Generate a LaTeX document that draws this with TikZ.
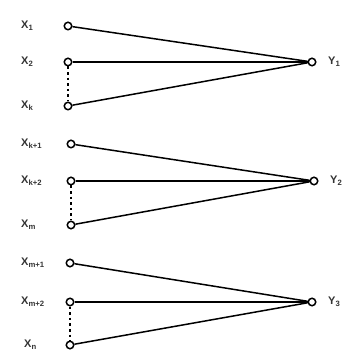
\documentclass[tikz,border=0pt]{standalone}
\usepackage{fontspec}
\setmainfont{Liberation Sans}
\usetikzlibrary{calc}

\begin{document}
\begin{tikzpicture}[x=1pt,y=-1pt]
\tikzset{
  vert/.style={circle,draw,line width=1.5pt,fill=white,inner sep=0pt,minimum size=7.5pt},
  lab/.style={anchor=west,inner sep=0pt,font=\fontsize{11}{13}\selectfont\bfseries,text=black!80},
  edge/.style={line width=1.5pt},
  dots/.style={line width=2.6pt,dash pattern=on 2.6pt off 3pt}
}
\useasboundingbox (0,0) rectangle (358,352);

% Group 1
\node[vert] (x1) at (68,26){};
\node[vert] (x2) at (68,62){};
\node[vert] (xk) at (68,106){};
\node[vert] (y1) at (312,62){};
\node[lab] (lx1) at (21,26){X\textsubscript{1}};
\node[lab] (lx2) at (21,62){X\textsubscript{2}};
\node[lab] (lxk) at (21,106){X\textsubscript{k}};
\node[lab] (ly1) at (328,62){Y\textsubscript{1}};
\draw[edge] (x1)--(y1);
\draw[edge] (x2)--(y1);
\draw[edge] (xk)--(y1);
\draw[dots] (x2)--(xk);

% Group 2
\node[vert] (xk1) at (71,144){};
\node[vert] (xk2) at (71,181){};
\node[vert] (xm) at (71,225){};
\node[vert] (y2) at (314,181){};
\node[lab] (lxk1) at (21,144){X\textsubscript{k+1}};
\node[lab] (lxk2) at (21,181){X\textsubscript{k+2}};
\node[lab] (lxm) at (21,225){X\textsubscript{m}};
\node[lab] (ly2) at (330,181){Y\textsubscript{2}};
\draw[edge] (xk1)--(y2);
\draw[edge] (xk2)--(y2);
\draw[edge] (xm)--(y2);
\draw[dots] (xk2)--(xm);

% Group 3
\node[vert] (xm1) at (70,263){};
\node[vert] (xm2) at (70,302){};
\node[vert] (xn) at (70,345){};
\node[vert] (y3) at (312,302){};
\node[lab] (lxm1) at (21,263){X\textsubscript{m+1}};
\node[lab] (lxm2) at (21,302){X\textsubscript{m+2}};
\node[lab] (lxn) at (24,345){X\textsubscript{n}};
\node[lab] (ly3) at (328,302){Y\textsubscript{3}};
\draw[edge] (xm1)--(y3);
\draw[edge] (xm2)--(y3);
\draw[edge] (xn)--(y3);
\draw[dots] (xm2)--(xn);

\end{tikzpicture}
\end{document}
